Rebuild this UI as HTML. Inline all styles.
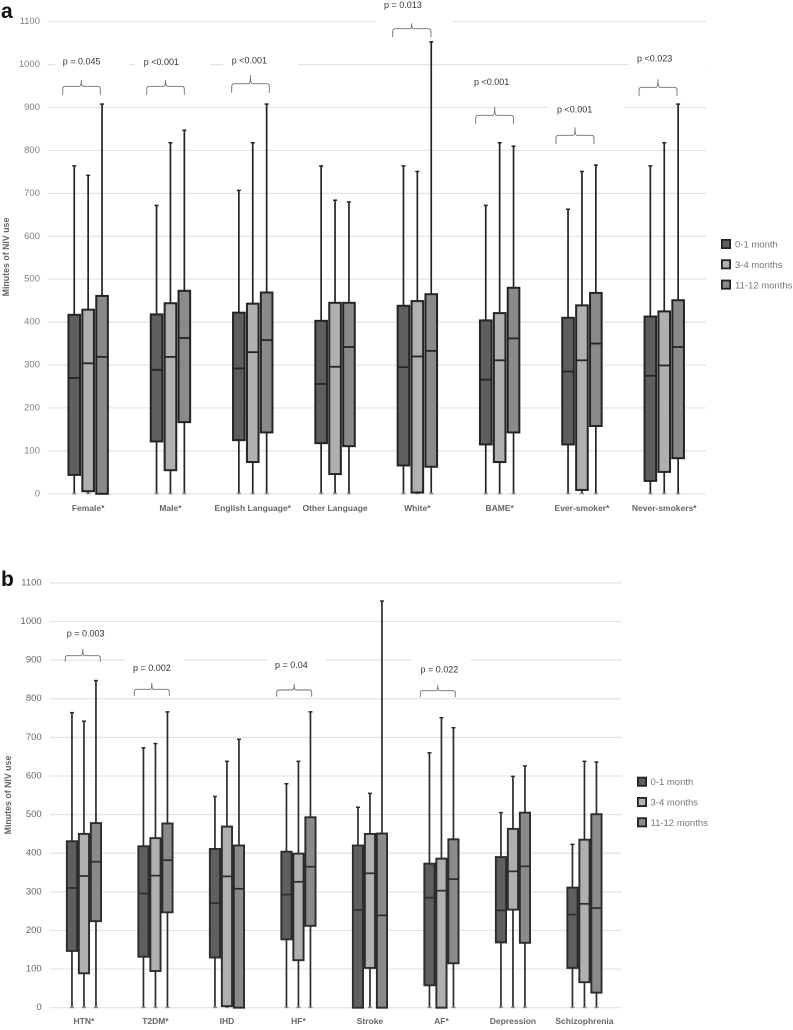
<!DOCTYPE html>
<html lang="en">
<head>
<meta charset="utf-8">
<title>Minutes of NIV use box plots</title>
<style>
html,body{margin:0;padding:0;background:#fff;}
body{width:793px;height:1030px;overflow:hidden;}
svg{display:block;filter:blur(0.25px);}
text{font-family:"Liberation Sans",sans-serif;}
.tick{font-size:9.5px;text-anchor:end;dominant-baseline:central;}
.cat{font-size:8.5px;font-weight:bold;fill:#666;text-anchor:middle;}
.ytitle{font-size:8.8px;font-weight:bold;fill:#666;text-anchor:middle;}
.leg{font-size:9.5px;fill:#777;}
.p{font-size:9px;fill:#333;dominant-baseline:central;}
.brace{fill:none;stroke:#6e6e6e;stroke-width:0.9;}
.panel{font-size:21px;font-weight:bold;fill:#111;}
</style>
</head>
<body>
<svg id="figure" width="793" height="1030" viewBox="0 0 793 1030" xmlns="http://www.w3.org/2000/svg">
  <rect width="793" height="1030" fill="#fff"/>
  <g id="grid-a"></g>
  <g id="grid-b"></g>

  <g fill="#fff">
    <rect x="376" y="15" width="75" height="12"/>
    <rect x="55" y="60" width="74" height="9"/>
    <rect x="135" y="60" width="75" height="9"/>
    <rect x="223" y="60" width="75" height="9"/>
    <rect x="629" y="60" width="76" height="9"/>
    <rect x="548" y="103" width="76" height="9"/>
    <rect x="125" y="655" width="59" height="9"/>
    <rect x="267" y="655" width="59" height="9"/>
    <rect x="412" y="655" width="59" height="9"/>
  </g>

  <g id="marks-a"></g>
  <g id="marks-b"></g>
  <g id="labels-a"></g>
  <g id="labels-b"></g>

  <text class="panel" x="1" y="18">a</text>
  <text class="panel" x="1" y="586">b</text>

  <text class="ytitle" transform="translate(9,257) rotate(-90)">Minutes of NIV use</text>
  <text class="ytitle" transform="translate(11,795) rotate(-90)">Minutes of NIV use</text>

  <g>
    <text class="p" x="62.7" y="61.7">p = 0.045</text>
    <path class="brace" d="M62.7 94.7V89Q62.7 86.3 65.5 86.3H79.5Q81.3 86.3 81.3 80Q81.3 86.3 83.1 86.3H97.5Q100.3 86.3 100.3 89V94.7"/>
    <text class="p" x="143.7" y="62">p &lt;0.001</text>
    <path class="brace" d="M146.7 94.7V89Q146.7 86.3 149.5 86.3H163.7Q165.5 86.3 165.5 80Q165.5 86.3 167.3 86.3H181.5Q184.3 86.3 184.3 89V94.7"/>
    <text class="p" x="231.7" y="60.5">p &lt;0.001</text>
    <path class="brace" d="M231.7 92.7V86.5Q231.7 83.7 234.5 83.7H248.7Q250.5 83.7 250.5 75.3Q250.5 83.7 252.3 83.7H266.5Q269.3 83.7 269.3 86.5V92.7"/>
    <text class="p" x="384" y="5">p  = 0.013</text>
    <path class="brace" d="M392.7 37.3V31.5Q392.7 28.7 395.5 28.7H410Q411.7 28.7 411.7 23.3Q411.7 28.7 413.4 28.7H428.2Q431 28.7 431 31.5V37.3"/>
    <text class="p" x="474" y="82">p &lt;0.001</text>
    <path class="brace" d="M475.7 123.7V118Q475.7 115.3 478.5 115.3H493Q494.7 115.3 494.7 106.7Q494.7 115.3 496.4 115.3H510.7Q513.5 115.3 513.5 118V123.7"/>
    <text class="p" x="557" y="109.5">p &lt;0.001</text>
    <path class="brace" d="M556 144V138Q556 135.3 558.8 135.3H573.3Q575 135.3 575 127.3Q575 135.3 576.7 135.3H591.2Q594 135.3 594 138V144"/>
    <text class="p" x="637" y="58.7">p &lt;0.023</text>
    <path class="brace" d="M639 96V90Q639 87.3 641.8 87.3H656.3Q658 87.3 658 79.3Q658 87.3 659.7 87.3H674.2Q677 87.3 677 90V96"/>
  </g>

  <g>
    <text class="p" x="66.7" y="633.3">p = 0.003</text>
    <path class="brace" d="M65.3 661.7V658Q65.3 655.7 67.6 655.7H81Q82.8 655.7 82.8 649Q82.8 655.7 84.6 655.7H98Q100.3 655.7 100.3 658V661.7"/>
    <text class="p" x="133" y="668">p = 0.002</text>
    <path class="brace" d="M134.3 695.7V691.6Q134.3 689.3 136.6 689.3H150Q151.8 689.3 151.8 682.7Q151.8 689.3 153.6 689.3H167Q169.3 689.3 169.3 691.6V695.7"/>
    <text class="p" x="275" y="665">p = 0.04</text>
    <path class="brace" d="M276.7 696.7V692.3Q276.7 690 279 690H292.4Q294.2 690 294.2 684Q294.2 690 296 690H309.4Q311.7 690 311.7 692.3V696.7"/>
    <text class="p" x="420.5" y="669.7">p = 0.022</text>
    <path class="brace" d="M420.3 697V693Q420.3 690.7 422.6 690.7H436Q437.8 690.7 437.8 684.7Q437.8 690.7 439.6 690.7H453Q455.3 690.7 455.3 693V697"/>
  </g>

  <g>
    <rect x="721.9" y="239.9" width="8.2" height="8.2" fill="#5f5f5f" stroke="#222" stroke-width="1.8"/>
    <text class="leg" x="735" y="247.5">0-1 month</text>
    <rect x="721.9" y="260.2" width="8.2" height="8.2" fill="#b0b0b0" stroke="#222" stroke-width="1.8"/>
    <text class="leg" x="735" y="268">3-4 months</text>
    <rect x="721.9" y="280.5" width="8.2" height="8.2" fill="#8a8a8a" stroke="#222" stroke-width="1.8"/>
    <text class="leg" x="735" y="288.3">11-12 months</text>
  </g>
  <g>
    <rect x="637.9" y="777.6" width="8.2" height="8.2" fill="#5f5f5f" stroke="#222" stroke-width="1.8"/>
    <text class="leg" x="650.5" y="785.2">0-1 month</text>
    <rect x="637.9" y="797.9" width="8.2" height="8.2" fill="#b0b0b0" stroke="#222" stroke-width="1.8"/>
    <text class="leg" x="650.5" y="805.6">3-4 months</text>
    <rect x="637.9" y="818.2" width="8.2" height="8.2" fill="#8a8a8a" stroke="#222" stroke-width="1.8"/>
    <text class="leg" x="650.5" y="826">11-12 months</text>
  </g>
</svg>

<script>
// Shared
const tickValues = [0, 100, 200, 300, 400, 500, 600, 700, 800, 900, 1000, 1100];
const seriesNames = ['0-1 month', '3-4 months', '11-12 months'];

// Panel a
const aCategories = ['Female*', 'Male*', 'English Language*', 'Other Language', 'White*', 'BAME*', 'Ever-smoker*', 'Never-smokers*'];
const aMonth1Max = [764, 672, 707, 764, 764, 672, 663, 764];
const aMonth1Q3 = [417, 418, 422, 403, 438, 404, 410, 413];
const aMonth1Median = [270, 289, 292, 256, 295, 266, 285, 275];
const aMonth1Q1 = [44, 122, 125, 118, 66, 115, 115, 30];
const aMonth1Min = [0, 0, 0, 0, 0, 0, 0, 0];
const aMonth3Max = [742, 818, 818, 684, 751, 818, 751, 818];
const aMonth3Q3 = [429, 444, 443, 445, 449, 421, 439, 425];
const aMonth3Median = [304, 319, 330, 296, 320, 311, 311, 299];
const aMonth3Q1 = [6, 55, 74, 46, 3, 74, 9, 51];
const aMonth3Min = [0, 0, 0, 0, 0, 0, 0, 0];
const aMonth11Max = [908, 847, 908, 680, 1053, 810, 766, 908];
const aMonth11Q3 = [461, 473, 469, 445, 465, 480, 468, 451];
const aMonth11Median = [319, 363, 358, 342, 333, 362, 350, 342];
const aMonth11Q1 = [0, 167, 143, 111, 63, 143, 158, 83];
const aMonth11Min = [0, 0, 0, 0, 0, 0, 0, 0];

// Panel b
const bCategories = ['HTN*', 'T2DM*', 'IHD', 'HF*', 'Stroke', 'AF*', 'Depression', 'Schizophrenia'];
const bMonth1Max = [764, 673, 547, 580, 519, 660, 505, 423];
const bMonth1Q3 = [431, 418, 411, 404, 420, 373, 390, 311];
const bMonth1Median = [310, 296, 271, 293, 253, 285, 252, 241];
const bMonth1Q1 = [147, 132, 130, 177, 0, 58, 169, 103];
const bMonth1Min = [0, 0, 0, 0, 0, 0, 0, 0];
const bMonth3Max = [742, 684, 638, 638, 555, 751, 599, 638];
const bMonth3Q3 = [450, 439, 469, 399, 450, 386, 463, 435];
const bMonth3Median = [341, 342, 340, 326, 348, 303, 353, 269];
const bMonth3Q1 = [89, 95, 4, 123, 103, 0, 254, 66];
const bMonth3Min = [0, 0, 0, 0, 0, 0, 0, 0];
const bMonth11Max = [847, 766, 695, 766, 1053, 725, 626, 636];
const bMonth11Q3 = [478, 477, 420, 493, 451, 436, 505, 501];
const bMonth11Median = [378, 382, 308, 365, 239, 333, 366, 258];
const bMonth11Q1 = [224, 247, 0, 212, 0, 115, 168, 39];
const bMonth11Min = [0, 0, 0, 0, 0, 0, 0, 0];

const SVGNS = 'http://www.w3.org/2000/svg';
const seriesFills = ['#5f5f5f', '#b0b0b0', '#8a8a8a'];

function make(tag, attrs, parent) {
  const el = document.createElementNS(SVGNS, tag);
  for (const k in attrs) el.setAttribute(k, attrs[k]);
  parent.appendChild(el);
  return el;
}

function drawPanel(cfg) {
  const yScale = v => cfg.y0 - v * cfg.yPerUnit;
  const xScale = i => cfg.bandStart + cfg.bandWidth * (i + 0.5);
  const gridG = document.getElementById(cfg.gridId);
  const marksG = document.getElementById(cfg.marksId);
  const labelsG = document.getElementById(cfg.labelsId);

  tickValues.forEach(v => {
    const line = make('line', {x1: cfg.axisLeft, x2: cfg.axisRight, y1: yScale(v), y2: yScale(v), stroke: '#e3e3e3', 'stroke-width': 1.2}, gridG);
    
    
    const label = make('text', {class: 'tick', x: cfg.tickX, y: yScale(v), fill: cfg.tickColor}, labelsG);
    label.textContent = String(v);
    
    
  });

  cfg.categories.forEach((cat, i) => {
    const label = make('text', {class: 'cat', x: xScale(i), y: cfg.catY}, labelsG);
    label.textContent = cat;
    
    

    cfg.series.forEach((s, k) => {
      const cx = xScale(i) + (k - 1) * cfg.offset;
      const g = make('g', {}, marksG);
      
      
      g.setAttribute('aria-label', cat + ' ' + seriesNames[k]);

      const whisker = make('line', {x1: cx, x2: cx, y1: yScale(s.min[i]), y2: yScale(s.max[i]), stroke: cfg.stroke, 'stroke-width': cfg.whiskerWidth}, g);
      
      

      const capTop = make('line', {x1: cx - 2, x2: cx + 2, y1: yScale(s.max[i]), y2: yScale(s.max[i]), stroke: cfg.stroke, 'stroke-width': 1.5}, g);
      
      

      const capBottom = make('line', {x1: cx - 2, x2: cx + 2, y1: yScale(s.min[i]) - 0.3, y2: yScale(s.min[i]) - 0.3, stroke: '#8c8c8c', 'stroke-width': 1.6}, g);
      
      

      const box = make('rect', {
        x: cx - cfg.boxWidth / 2,
        y: yScale(s.q3[i]),
        width: cfg.boxWidth,
        height: yScale(s.q1[i]) - yScale(s.q3[i]),
        fill: seriesFills[k],
        stroke: cfg.stroke,
        'stroke-width': cfg.boxStroke
      }, g);
      
      

      const median = make('line', {
        x1: cx - cfg.boxWidth / 2,
        x2: cx + cfg.boxWidth / 2,
        y1: yScale(s.median[i]),
        y2: yScale(s.median[i]),
        stroke: cfg.stroke,
        'stroke-width': cfg.boxStroke - 0.2
      }, g);
      
      
    });
  });
}

drawPanel({
  gridId: 'grid-a', marksId: 'marks-a', labelsId: 'labels-a',
  categories: aCategories,
  series: [
    {max: aMonth1Max, q3: aMonth1Q3, median: aMonth1Median, q1: aMonth1Q1, min: aMonth1Min},
    {max: aMonth3Max, q3: aMonth3Q3, median: aMonth3Median, q1: aMonth3Q1, min: aMonth3Min},
    {max: aMonth11Max, q3: aMonth11Q3, median: aMonth11Median, q1: aMonth11Q1, min: aMonth11Min}
  ],
  y0: 493.8, yPerUnit: 0.4292,
  axisLeft: 47.5, axisRight: 706,
  bandStart: 47, bandWidth: 82.3,
  offset: 13.9, boxWidth: 11.6,
  boxStroke: 2, whiskerWidth: 1.7,
  stroke: '#242424', tickColor: '#808080', tickX: 40, catY: 511
});

drawPanel({
  gridId: 'grid-b', marksId: 'marks-b', labelsId: 'labels-b',
  categories: bCategories,
  series: [
    {max: bMonth1Max, q3: bMonth1Q3, median: bMonth1Median, q1: bMonth1Q1, min: bMonth1Min},
    {max: bMonth3Max, q3: bMonth3Q3, median: bMonth3Median, q1: bMonth3Q1, min: bMonth3Min},
    {max: bMonth11Max, q3: bMonth11Q3, median: bMonth11Median, q1: bMonth11Q1, min: bMonth11Min}
  ],
  y0: 1007.7, yPerUnit: 0.3862,
  axisLeft: 49.5, axisRight: 621.7,
  bandStart: 48.2, bandWidth: 71.5,
  offset: 12, boxWidth: 10.2,
  boxStroke: 1.9, whiskerWidth: 1.7,
  stroke: '#2c2c2c', tickColor: '#666', tickX: 41.7, catY: 1024
});
</script>
</body>
</html>
